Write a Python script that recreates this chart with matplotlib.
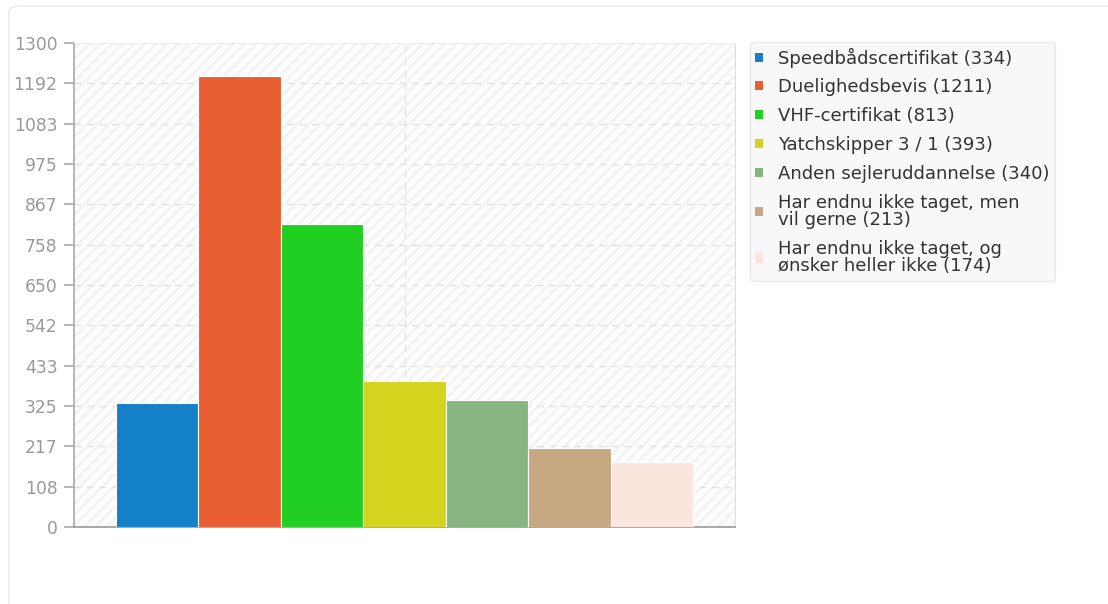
import numpy as np
import matplotlib
matplotlib.use('Agg')
import matplotlib.pyplot as plt
from matplotlib.patches import Rectangle, FancyBboxPatch

labels = ['Speedbådscertifikat (334)', 'Duelighedsbevis (1211)', 'VHF-certifikat (813)',
          'Yatchskipper 3 / 1 (393)', 'Anden sejleruddannelse (340)',
          'Har endnu ikke taget, men\nvil gerne (213)',
          'Har endnu ikke taget, og\nønsker heller ikke (174)']
values = [334, 1211, 813, 393, 340, 213, 174]
colors = ['#1380c8', '#e85f33', '#21cf23', '#d4d41e', '#87b582', '#c6a883', '#fbe6de']
yticks = [0, 108, 217, 325, 433, 542, 650, 758, 867, 975, 1083, 1192, 1300]

plt.rcParams['hatch.linewidth'] = 1.5

fig = plt.figure(figsize=(11.08, 6.04), dpi=100)
# faint outer frame
fig.patches.append(FancyBboxPatch((0.008, -0.02), 1.1, 1.01, boxstyle='round,pad=0,rounding_size=0.01',
                                  transform=fig.transFigure, fc='none', ec='#e8e8e8', lw=1))

ax = fig.add_axes([0.0668, 0.1275, 0.5966, 0.8013])
ax.set_xlim(0, 1)
ax.set_ylim(0, 1300)
ax.set_facecolor('#fdfdfd')
# diagonal stripes in the plot background
ax.add_patch(Rectangle((0, 0), 1, 1, transform=ax.transAxes, fc='none', ec='#f1f1f1',
                       hatch='///', lw=0, zorder=0))

n = len(values)
group = 0.873
w = group / n
x0 = 0.5 - group / 2
for i, (v, c, lab) in enumerate(zip(values, colors, labels)):
    ax.bar(x0 + w * (i + 0.5), v, width=w, color=c, edgecolor='white', linewidth=0.8,
           label=lab, zorder=3)

ax.set_yticks(yticks)
ax.set_yticklabels([str(t) for t in yticks])
ax.set_xticks([])
ax.grid(axis='y', color='#e2e2e2', linestyle=(0, (5, 4)), linewidth=1, zorder=1)
ax.axvline(0.5, color='#e2e2e2', linestyle=(0, (5, 4)), linewidth=1, zorder=1)
ax.tick_params(axis='y', colors='#aaaaaa', labelcolor='#999999', labelsize=12.3, length=7, width=1.2, pad=5)
ax.spines['left'].set_color('#aaaaaa')
ax.spines['left'].set_linewidth(1.2)
ax.spines['bottom'].set_color('#999999')
ax.spines['bottom'].set_linewidth(1.2)
ax.spines['right'].set_color('#dddddd')
ax.spines['top'].set_color('#eeeeee')

leg = ax.legend(loc='upper left', bbox_to_anchor=(1.0227, 1.002), frameon=True, fontsize=13,
                handlelength=0.4, handleheight=0.4, handletextpad=0.85, labelspacing=0.6,
                borderpad=0.3, borderaxespad=0, labelcolor='#333333', fancybox=True)
for t in leg.get_texts():
    t.set_linespacing(0.95)
frame = leg.get_frame()
frame.set_facecolor('#f7f7f7')
frame.set_edgecolor('#e4e4e4')
for h in leg.legend_handles:
    h.set_edgecolor('none')

fig.savefig('out.png', dpi=100)
